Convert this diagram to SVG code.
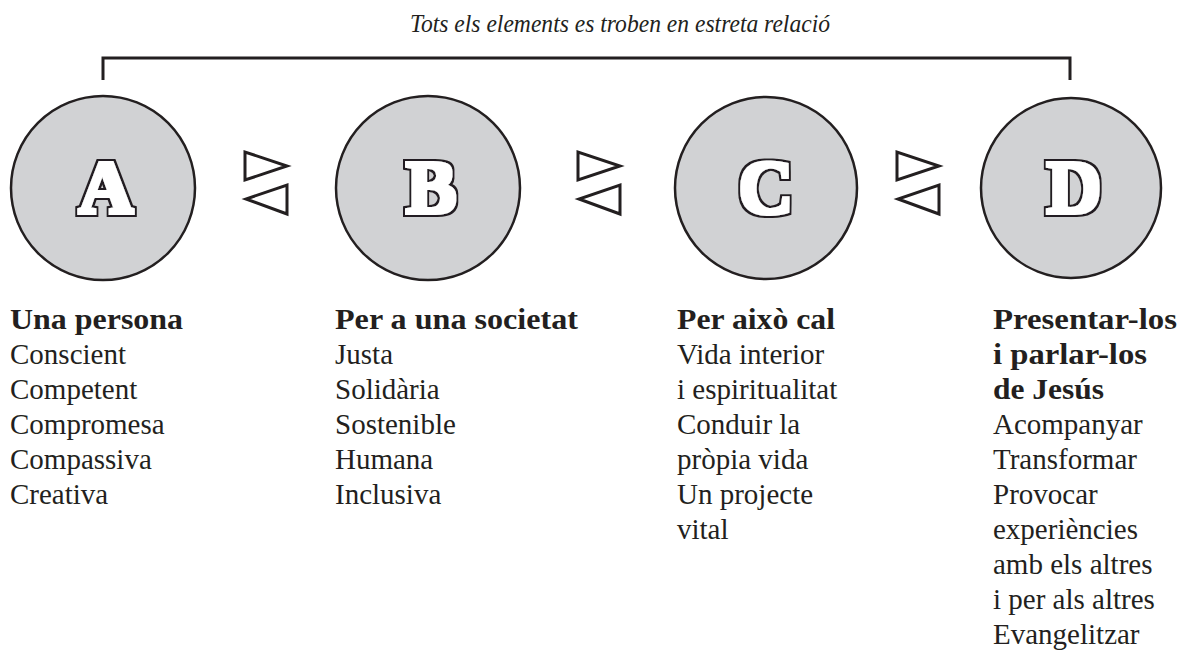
<svg xmlns="http://www.w3.org/2000/svg" width="1184" height="651" viewBox="0 0 1184 651">
<style>
  .circ { fill: #d1d2d4; stroke: #231f20; stroke-width: 2.5; }
  .letter { font-family: "Liberation Serif", "DejaVu Serif", serif; font-weight: bold; font-size: 76px; fill: #231f20; text-anchor: middle; filter: url(#fat); }
  .tri { fill: #ffffff; stroke: #231f20; stroke-width: 3; stroke-linejoin: miter; }
  .head { font-family: "Liberation Serif", serif; font-weight: bold; font-size: 29px; fill: #231f20; }
  .body { font-family: "Liberation Serif", serif; font-size: 29px; fill: #231f20; }
  .title { font-family: "Liberation Serif", serif; font-style: italic; font-size: 25px; fill: #231f20; }
  .bracket { fill: none; stroke: #231f20; stroke-width: 3; }
</style>
<defs>
  <filter id="fat" x="-20%" y="-20%" width="140%" height="140%">
    <feMorphology in="SourceAlpha" operator="dilate" radius="4" result="outer"/>
    <feFlood flood-color="#231f20" result="dk"/>
    <feComposite in="dk" in2="outer" operator="in" result="dark"/>
    <feMorphology in="SourceAlpha" operator="dilate" radius="1.5" result="inner"/>
    <feFlood flood-color="#ffffff" result="wh"/>
    <feComposite in="wh" in2="inner" operator="in" result="white"/>
    <feMerge><feMergeNode in="dark"/><feMergeNode in="white"/></feMerge>
  </filter>
</defs>
<rect width="1184" height="651" fill="#ffffff"/>
<text class="title" x="410" y="32" textLength="420" lengthAdjust="spacingAndGlyphs">Tots els elements es troben en estreta relació</text>
<g id="connectors">
  <path class="bracket" d="M103,80 V58 H1070 V80"/>
  <polygon class="tri" points="245,152 245,180 287,166"/>
  <polygon class="tri" points="287,185 287,214 246,199"/>
  <polygon class="tri" points="578,152 578,180 620,166"/>
  <polygon class="tri" points="620,185 620,214 579,199"/>
  <polygon class="tri" points="897,152 897,180 939,166"/>
  <polygon class="tri" points="939,185 939,214 898,199"/>
</g>
<g id="node-A">
  <circle class="circ" cx="103" cy="188" r="92"/>
  <text class="letter" x="106" y="213">A</text>
  <text class="head" x="10" y="329" textLength="173" lengthAdjust="spacingAndGlyphs">Una persona</text>
  <text class="body" x="10" y="364">Conscient</text>
  <text class="body" x="10" y="399">Competent</text>
  <text class="body" x="10" y="434">Compromesa</text>
  <text class="body" x="10" y="469">Compassiva</text>
  <text class="body" x="10" y="504">Creativa</text>
</g>
<g id="node-B">
  <circle class="circ" cx="428" cy="188" r="92"/>
  <text class="letter" x="431" y="213">B</text>
  <text class="head" x="335" y="329" textLength="243" lengthAdjust="spacingAndGlyphs">Per a una societat</text>
  <text class="body" x="335" y="364">Justa</text>
  <text class="body" x="335" y="399">Solidària</text>
  <text class="body" x="335" y="434">Sostenible</text>
  <text class="body" x="335" y="469">Humana</text>
  <text class="body" x="335" y="504">Inclusiva</text>
</g>
<g id="node-C">
  <circle class="circ" cx="766" cy="188" r="91"/>
  <text class="letter" x="766" y="213">C</text>
  <text class="head" x="677" y="329" textLength="158" lengthAdjust="spacingAndGlyphs">Per això cal</text>
  <text class="body" x="677" y="364">Vida interior</text>
  <text class="body" x="677" y="399">i espiritualitat</text>
  <text class="body" x="677" y="434">Conduir la</text>
  <text class="body" x="677" y="469">pròpia vida</text>
  <text class="body" x="677" y="504">Un projecte</text>
  <text class="body" x="677" y="539">vital</text>
</g>
<g id="node-D">
  <circle class="circ" cx="1071" cy="188" r="90"/>
  <text class="letter" x="1074" y="213">D</text>
  <text class="head" x="993" y="329" textLength="184" lengthAdjust="spacingAndGlyphs">Presentar-los</text>
  <text class="head" x="993" y="364" textLength="154" lengthAdjust="spacingAndGlyphs">i parlar-los</text>
  <text class="head" x="993" y="399" textLength="111" lengthAdjust="spacingAndGlyphs">de Jesús</text>
  <text class="body" x="993" y="434">Acompanyar</text>
  <text class="body" x="993" y="469">Transformar</text>
  <text class="body" x="993" y="504">Provocar</text>
  <text class="body" x="993" y="539">experiències</text>
  <text class="body" x="993" y="574">amb els altres</text>
  <text class="body" x="993" y="609">i per als altres</text>
  <text class="body" x="993" y="644">Evangelitzar</text>
</g>
</svg>
